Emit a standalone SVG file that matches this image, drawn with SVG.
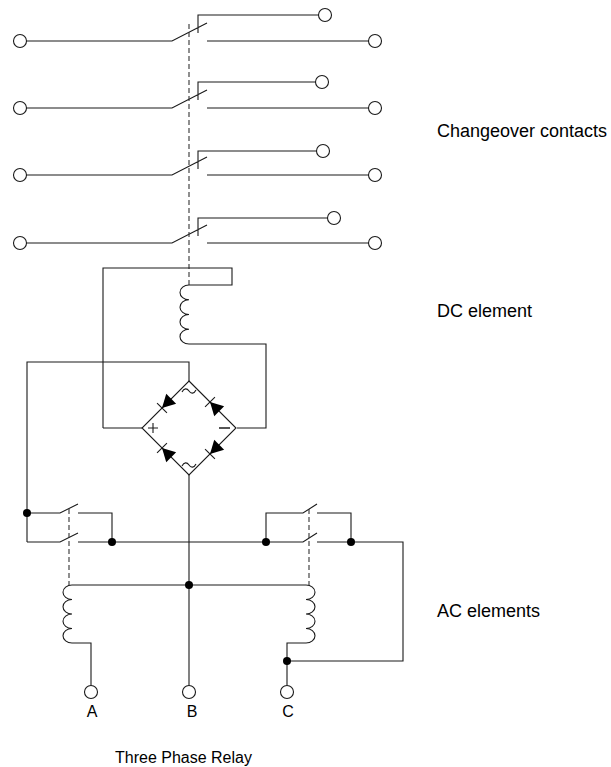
<svg xmlns="http://www.w3.org/2000/svg" width="611" height="767" viewBox="0 0 611 767">
<style>
.w{fill:none;stroke:#1a1a1a;stroke-width:1.1}
.d{fill:none;stroke:#333;stroke-width:1.1;stroke-dasharray:5 3}
.t{fill:#fff;stroke:#1a1a1a;stroke-width:1.1}
.dot{fill:#000}
.lbl{font-family:"Liberation Sans",Arial,sans-serif;font-size:18px;fill:#000}
.sm{font-family:"Liberation Sans",Arial,sans-serif;font-size:16px;fill:#000}
</style>
<defs>
<g id="diode"><polygon points="-13,-7 0,0 -13,7" fill="#000"/><line x1="0" y1="-7" x2="0" y2="7" stroke="#1a1a1a" stroke-width="1.1"/></g>
</defs>
<rect width="611" height="767" fill="#fff"/>
<g id="connectors">
<path class="w" d="M26.5,41H172L207,23M198,33V15H318.5M207,41H368.5"/>
<path class="w" d="M26.5,108H172L207,90M198,100V82H315.5M207,108H368.5"/>
<path class="w" d="M26.5,175H172L207,157M198,169V151H316.5M207,175H368.5"/>
<path class="w" d="M26.5,243H172L207,225M198,236V218H327.5M207,243H368.5"/>
<path class="d" d="M189,24V285"/>
<path class="w" d="M103,428V268H232V285H189"/>
<path class="w" d="M189,344H266V428H237"/>
<path class="w" d="M103,428H142"/>
<path class="w" d="M27,542V362H189V381"/>
<path class="w" d="M27,513H60L78,504M78,513H112V542"/>
<path class="w" d="M27,542H60L78,533M78,542H303L317,533M317,542H403V661H287"/>
<path class="w" d="M266,542V513H303L317,504M317,513H351V542"/>
<path class="d" d="M69,509V585M309,509V585"/>
<path class="w" d="M72,585H306"/>
<path class="w" d="M189,475V685.5"/>
<path class="w" d="M72,643H91V685.5"/>
<path class="w" d="M306,643H287V685.5"/>
</g>
<g id="contact1"><circle class="t" cx="20" cy="41" r="6.5"/><circle class="t" cx="325" cy="15" r="6.5"/><circle class="t" cx="375" cy="41" r="6.5"/></g>
<g id="contact2"><circle class="t" cx="20" cy="108" r="6.5"/><circle class="t" cx="322" cy="82" r="6.5"/><circle class="t" cx="375" cy="108" r="6.5"/></g>
<g id="contact3"><circle class="t" cx="20" cy="175" r="6.5"/><circle class="t" cx="323" cy="151" r="6.5"/><circle class="t" cx="375" cy="175" r="6.5"/></g>
<g id="contact4"><circle class="t" cx="20" cy="243" r="6.5"/><circle class="t" cx="334" cy="218" r="6.5"/><circle class="t" cx="375" cy="243" r="6.5"/></g>
<g id="dc-coil"><path class="w" d="M189,285a9 7.375 0 0 0 0 14.75a9 7.375 0 0 0 0 14.75a9 7.375 0 0 0 0 14.75a9 7.375 0 0 0 0 14.75"/></g>
<g id="bridge">
<polygon class="w" points="189,381 236,428 189,475 142,428"/>
<use href="#diode" transform="translate(162,408) rotate(135)"/>
<use href="#diode" transform="translate(210,402) rotate(225)"/>
<use href="#diode" transform="translate(162,448) rotate(225)"/>
<use href="#diode" transform="translate(210,454) rotate(135)"/>
<path class="w" d="M182,392c2,-4 5,-4 7,-1s5,3 7,-1"/>
<path class="w" d="M182,466c2,-4 5,-4 7,-1s5,3 7,-1"/>
<path class="w" d="M148,428h10M153,423v10"/>
<path fill="none" stroke="#555" stroke-width="2" d="M219,428h11"/>
</g>
<g id="ac-switch-left">
<circle class="dot" cx="27" cy="513" r="4"/><circle class="dot" cx="112" cy="542" r="4"/>
</g>
<g id="ac-switch-right">
<circle class="dot" cx="266" cy="542" r="4"/><circle class="dot" cx="351" cy="542" r="4"/>
</g>
<g id="ac-coil-a"><path class="w" d="M72,585a9 7.25 0 0 0 0 14.5a9 7.25 0 0 0 0 14.5a9 7.25 0 0 0 0 14.5a9 7.25 0 0 0 0 14.5"/></g>
<g id="ac-coil-c"><path class="w" d="M306,585a9 7.25 0 0 1 0 14.5a9 7.25 0 0 1 0 14.5a9 7.25 0 0 1 0 14.5a9 7.25 0 0 1 0 14.5"/></g>
<g id="junctions"><circle class="dot" cx="189" cy="585" r="4"/><circle class="dot" cx="287" cy="661" r="4"/></g>
<g id="terminal-a"><circle class="t" cx="91" cy="692" r="6.5"/><text class="sm" x="92" y="717" text-anchor="middle">A</text></g>
<g id="terminal-b"><circle class="t" cx="189" cy="692" r="6.5"/><text class="sm" x="192" y="717" text-anchor="middle">B</text></g>
<g id="terminal-c"><circle class="t" cx="287" cy="692" r="6.5"/><text class="sm" x="288" y="717" text-anchor="middle">C</text></g>
<g id="labels">
<text class="lbl" x="437" y="137">Changeover contacts</text>
<text class="lbl" x="437" y="317">DC element</text>
<text class="lbl" x="437" y="617">AC elements</text>
<text class="sm" x="115" y="763">Three Phase Relay</text>
</g>
</svg>
